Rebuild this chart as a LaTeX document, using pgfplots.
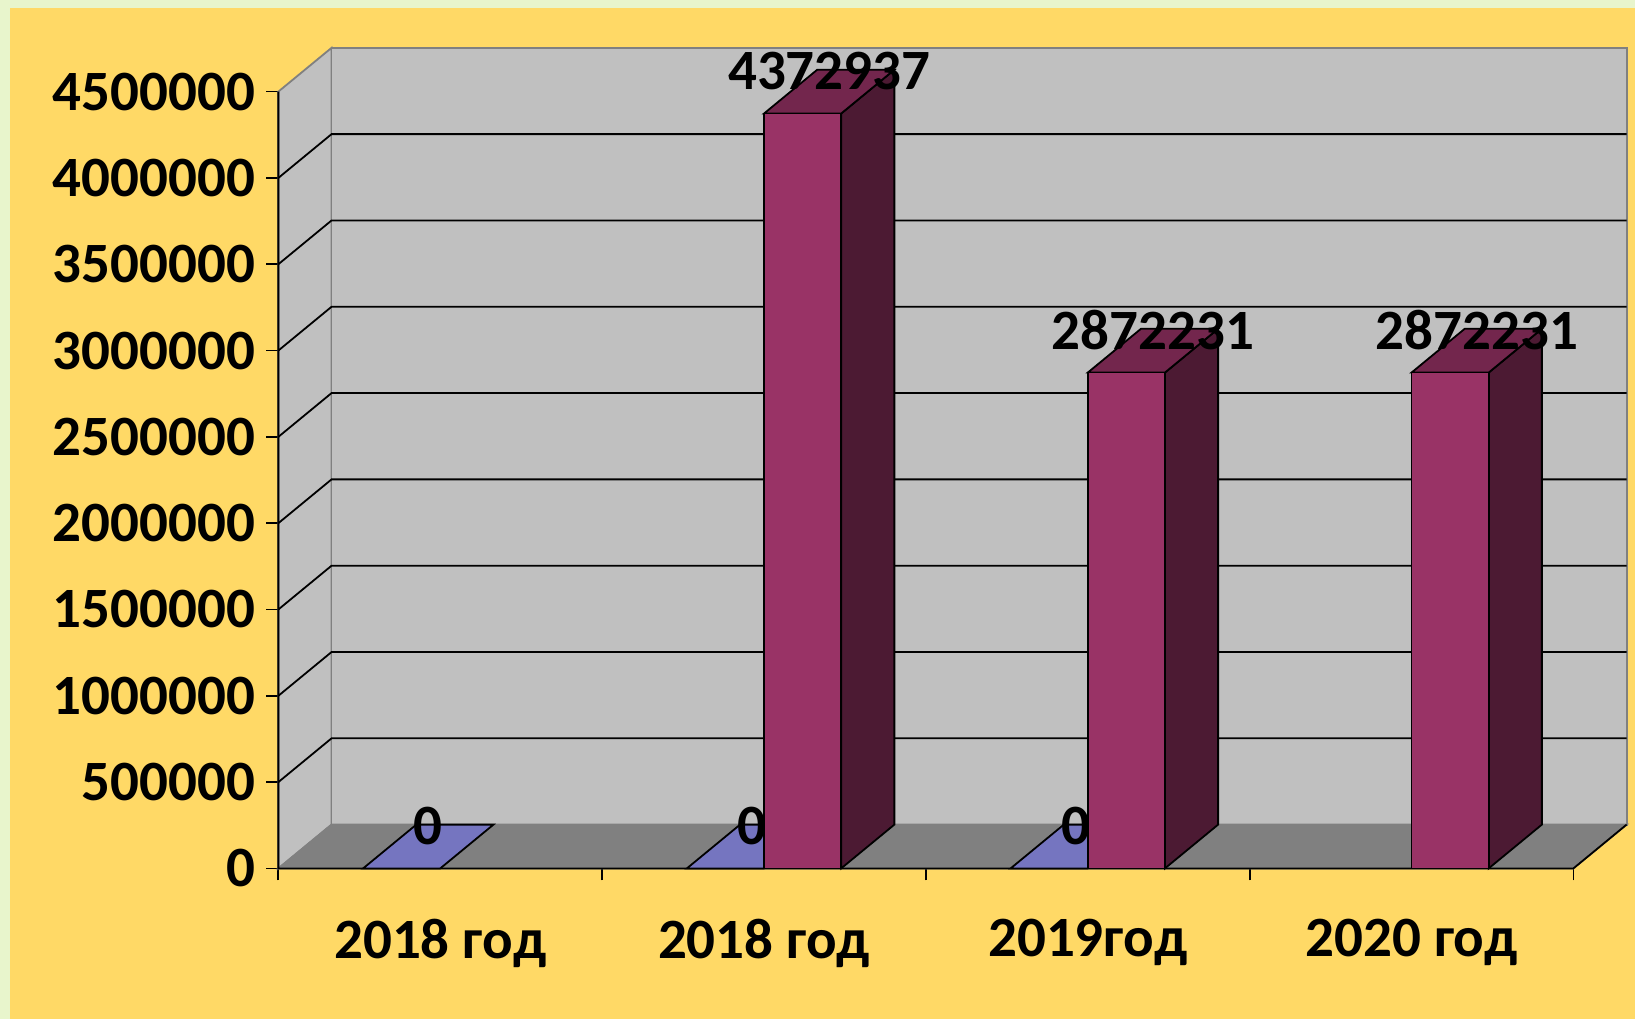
\documentclass[border=0pt]{standalone}
\usepackage{pgfplots}
\pgfplotsset{compat=1.18}
\usepackage{fontspec}
\setmainfont{Carlito}
\definecolor{bgyel}{HTML}{FFD966}
\definecolor{bgpale}{HTML}{E8F5CC}
\definecolor{wall}{HTML}{C0C0C0}
\definecolor{floorc}{HTML}{808080}
\definecolor{edgec}{HTML}{808080}
\definecolor{bluefront}{HTML}{9999FF}
\definecolor{bluetop}{HTML}{7575C0}
\definecolor{marfront}{HTML}{993366}
\definecolor{marside}{HTML}{4C1A33}
\definecolor{martop}{HTML}{73264D}
\newcommand{\lblfont}{\fontsize{28.5}{34}\selectfont\bfseries}
\begin{document}
\begin{tikzpicture}
\fill[bgpale] (-139.2pt,-75.3pt) rectangle (678.3pt,434.2pt);
\fill[bgyel] (-134.2pt,-75.3pt) rectangle (678.3pt,430.2pt);
\begin{axis}[
  at={(0pt,0pt)}, anchor=south west,
  scale only axis, width=674.1pt, height=410.3pt,
  xmin=-0.5, xmax=3.6643, ymin=0, ymax=4753700,
  axis line style={draw=none},
  clip=false,
  scaled y ticks=false, scaled x ticks=false,
  /pgf/number format/assume math mode=true,
  xtick={-0.5,0.5,1.5,2.5,3.5}, xticklabels={},
  extra x ticks={0,1,2,3},
  extra x tick labels={2018 год,2018 год,2019год,2020 год},
  extra x tick style={major tick length=0pt,
    xticklabel style={anchor=north, inner sep=0pt, yshift=-25.2pt}},
  ytick={0,500000,1000000,1500000,2000000,2500000,3000000,3500000,4000000,4500000},
  yticklabels={0,500000,1000000,1500000,2000000,2500000,3000000,3500000,4000000,4500000},
  yticklabel style={anchor=east, inner sep=0pt, xshift=-5.4pt},
  xtick pos=bottom, ytick pos=left, tick align=outside,
  major tick length=6pt,
  tick style={black, line width=0.9pt},
  ticklabel style={font=\lblfont, text=black},
]
% walls and floor
\addplot[fill=wall, draw=edgec, line width=0.9pt] coordinates {(-0.5,0) (-0.3357,253700) (-0.3357,4753700) (-0.5,4500000)} -- cycle;
\addplot[fill=wall, draw=edgec, line width=0.9pt] coordinates {(-0.3357,253700) (3.6643,253700) (3.6643,4753700) (-0.3357,4753700)} -- cycle;
\addplot[fill=floorc, draw=edgec, line width=0.9pt] coordinates {(-0.5,0) (3.5,0) (3.6643,253700) (-0.3357,253700)} -- cycle;
% gridlines
\addplot[black, line width=0.9pt] coordinates {(-0.5,500000) (-0.3357,753700) (3.6643,753700)};
\addplot[black, line width=0.9pt] coordinates {(-0.5,1000000) (-0.3357,1253700) (3.6643,1253700)};
\addplot[black, line width=0.9pt] coordinates {(-0.5,1500000) (-0.3357,1753700) (3.6643,1753700)};
\addplot[black, line width=0.9pt] coordinates {(-0.5,2000000) (-0.3357,2253700) (3.6643,2253700)};
\addplot[black, line width=0.9pt] coordinates {(-0.5,2500000) (-0.3357,2753700) (3.6643,2753700)};
\addplot[black, line width=0.9pt] coordinates {(-0.5,3000000) (-0.3357,3253700) (3.6643,3253700)};
\addplot[black, line width=0.9pt] coordinates {(-0.5,3500000) (-0.3357,3753700) (3.6643,3753700)};
\addplot[black, line width=0.9pt] coordinates {(-0.5,4000000) (-0.3357,4253700) (3.6643,4253700)};
% front axis lines
\addplot[black, line width=0.9pt] coordinates {(-0.5,4500000) (-0.5,0) (3.5,0) (3.6643,253700)};
% blue (zero) bar tops
\addplot[fill=bluetop, draw=black, line width=0.9pt] coordinates {(-0.2383,0) (0,0) (0.1643,253700) (-0.0740,253700)} -- cycle;
\addplot[fill=bluetop, draw=black, line width=0.9pt] coordinates {(0.7617,0) (1,0) (1.1643,253700) (0.9260,253700)} -- cycle;
\addplot[fill=bluetop, draw=black, line width=0.9pt] coordinates {(1.7617,0) (2,0) (2.1643,253700) (1.9260,253700)} -- cycle;
% maroon side and top faces
\addplot[fill=marside, draw=black, line width=0.9pt] coordinates {(1.2383,0) (1.4026,253700) (1.4026,4626637) (1.2383,4372937)} -- cycle;
\addplot[fill=martop, draw=black, line width=0.9pt] coordinates {(1,4372937) (1.2383,4372937) (1.4026,4626637) (1.1643,4626637)} -- cycle;
\addplot[fill=marside, draw=black, line width=0.9pt] coordinates {(2.2383,0) (2.4026,253700) (2.4026,3125931) (2.2383,2872231)} -- cycle;
\addplot[fill=martop, draw=black, line width=0.9pt] coordinates {(2,2872231) (2.2383,2872231) (2.4026,3125931) (2.1643,3125931)} -- cycle;
\addplot[fill=marside, draw=black, line width=0.9pt] coordinates {(3.2383,0) (3.4026,253700) (3.4026,3125931) (3.2383,2872231)} -- cycle;
\addplot[fill=martop, draw=black, line width=0.9pt] coordinates {(3,2872231) (3.2383,2872231) (3.4026,3125931) (3.1643,3125931)} -- cycle;
% maroon fronts
\addplot[ybar, bar width=0.2383, bar shift=0.11915, fill=marfront, draw=black, line width=0.9pt,
  point meta=explicit symbolic, nodes near coords={\pgfplotspointmeta},
  every node near coord/.append style={anchor=center, inner sep=0pt, xshift=32.6pt, yshift=21.4pt, font=\lblfont, text=black}]
  coordinates {(1,4372937)[4372937] (2,2872231)[2872231] (3,2872231)[2872231]};
% blue fronts (zero)
\addplot[ybar, bar width=0.2383, bar shift=-0.11915, fill=bluefront, draw=black, line width=0.9pt,
  point meta=explicit symbolic, nodes near coords={\pgfplotspointmeta},
  every node near coord/.append style={anchor=center, inner sep=0pt, xshift=-6.0pt, yshift=21.4pt, font=\lblfont, text=black}]
  coordinates {(0,0)[0] (1,0)[0] (2,0)[0]};
\end{axis}
\end{tikzpicture}
\end{document}
